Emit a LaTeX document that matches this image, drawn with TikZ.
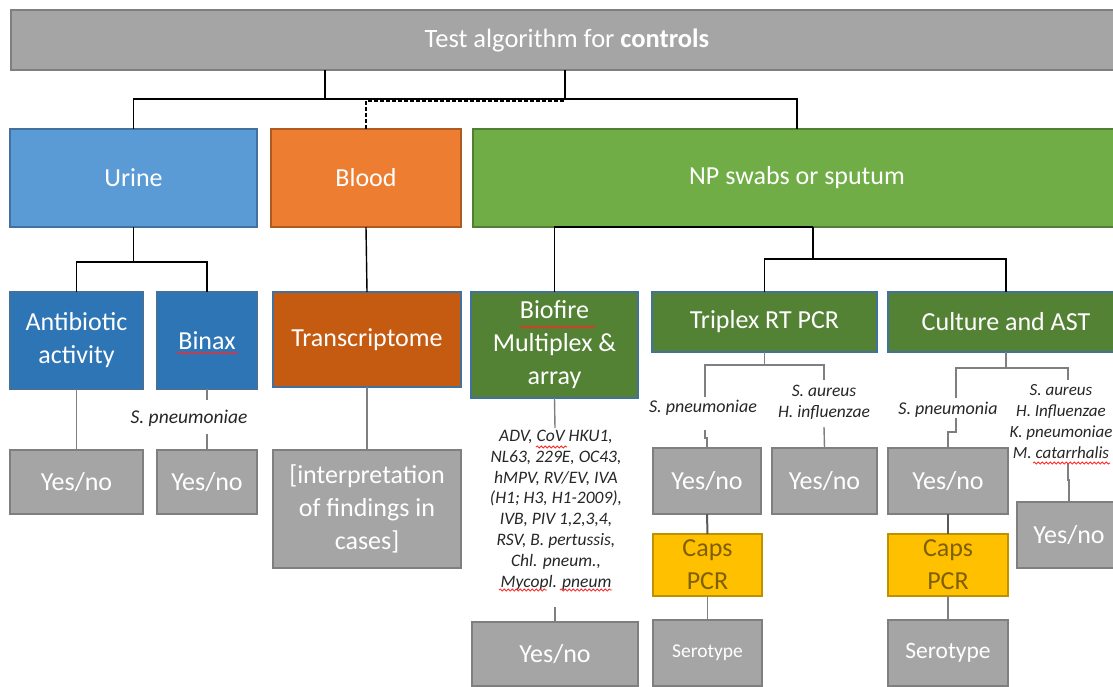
\documentclass[tikz,border=0pt]{standalone}
\usepackage{fontspec}
\setmainfont{Carlito}
\usetikzlibrary{decorations.pathmorphing}
\definecolor{gbox}{HTML}{A5A5A5}
\definecolor{gedge}{HTML}{7F7F7F}
\definecolor{urinec}{HTML}{5B9BD5}
\definecolor{bluee}{HTML}{41719C}
\definecolor{bloodc}{HTML}{ED7D31}
\definecolor{bloode}{HTML}{AE5A21}
\definecolor{npc}{HTML}{70AD47}
\definecolor{npe}{HTML}{507E32}
\definecolor{dblue}{HTML}{2E75B6}
\definecolor{dorange}{HTML}{C55A11}
\definecolor{dgreen}{HTML}{548235}
\definecolor{capsc}{HTML}{FFC000}
\definecolor{capse}{HTML}{BF9000}
\definecolor{capst}{HTML}{7F6000}
\definecolor{lblc}{HTML}{262626}
\begin{document}
\begin{tikzpicture}[x=1pt,y=-1pt,
  box/.style={draw, line width=1.1pt, rectangle, inner sep=0pt, outer sep=0pt,
    text=white, align=center, font=\fontsize{26}{33}\selectfont},
  graybox/.style={box, fill=gbox, draw=gedge},
  capsbox/.style={box, fill=capsc, draw=capse, text=capst},
  lbl/.style={inner sep=0pt, align=center, text=lblc, font=\itshape\fontsize{18}{21}\selectfont},
  mainline/.style={draw=black, line width=1.4pt},
  subline/.style={draw=gedge, line width=1.4pt},
  capsline/.style={draw=black!65, line width=2pt},
  spell/.style={draw=red!85, line width=0.8pt, decorate, decoration={snake, amplitude=1.1pt, segment length=4pt}}
]
\useasboundingbox (0,0) rectangle (1113,686);
\clip (0,0) rectangle (1113,686);

% ---------- nodes ----------
\node[graybox, minimum width=1112pt, minimum height=60pt] (title) at (567,40)
  {\fontsize{26.5}{32}\selectfont Test algorithm for \textbf{controls}};

\node[box, fill=urinec, draw=bluee, minimum width=247pt, minimum height=98pt] (urine) at (133.5,178) {Urine};
\node[box, fill=bloodc, draw=bloode, minimum width=190pt, minimum height=98pt] (blood) at (366,178) {Blood};
\node[box, fill=npc, draw=npe, minimum width=648pt, minimum height=98pt] (np) at (797,178) {NP swabs or sputum};

\node[box, fill=dblue, draw=bluee, minimum width=133pt, minimum height=97pt] (anti) at (76.5,340.5) {Antibiotic\\activity};
\node[box, fill=dblue, draw=bluee, minimum width=100pt, minimum height=97pt] (binax) at (207,340.5) {Binax};
\node[box, fill=dorange, draw=bluee, minimum width=188pt, minimum height=95pt] (trans) at (367,339.5) {Transcriptome};
\node[box, fill=dgreen, draw=bluee, minimum width=167pt, minimum height=106pt] (biofire) at (554.5,345) {Biofire\\Multiplex \&\\array};
\node[box, fill=dgreen, draw=bluee, minimum width=225pt, minimum height=60pt] (triplex) at (764.5,322) {Triplex RT PCR};
\node[box, fill=dgreen, draw=bluee, minimum width=236pt, minimum height=60pt] (culture) at (1006,322) {Culture and AST};

\node[graybox, minimum width=133pt, minimum height=64pt] (yn1) at (76.5,482) {Yes/no};
\node[graybox, minimum width=100pt, minimum height=64pt] (yn2) at (207,482) {Yes/no};
\node[graybox, minimum width=188pt, minimum height=118pt] (interp) at (367,509) {[interpretation\\of findings in\\cases]};
\node[graybox, minimum width=166pt, minimum height=64pt] (yn3) at (555,654) {Yes/no};
\node[graybox, minimum width=108pt, minimum height=66pt] (yn4) at (707,481) {Yes/no};
\node[graybox, minimum width=105pt, minimum height=66pt] (yn5) at (824.5,481) {Yes/no};
\node[capsbox, minimum width=109pt, minimum height=62pt] (caps1) at (707.5,565) {Caps\\PCR};
\node[graybox, minimum width=109pt, minimum height=66pt, font=\fontsize{19.5}{24}\selectfont] (sero1) at (707.5,653) {Serotype};
\node[graybox, minimum width=120pt, minimum height=66pt] (yn6) at (948,481) {Yes/no};
\node[capsbox, minimum width=120pt, minimum height=62pt] (caps2) at (948,565) {Caps\\PCR};
\node[graybox, minimum width=120pt, minimum height=66pt, font=\fontsize{23.5}{28}\selectfont] (sero2) at (948,653) {Serotype};
\node[graybox, minimum width=104pt, minimum height=66pt] (yn7) at (1069,535) {Yes/no};

% ---------- labels ----------
\node[lbl, font=\itshape\fontsize{19.5}{23}\selectfont] (lblb) at (189,418) {S. pneumoniae};
\node[lbl, font=\itshape\fontsize{17.5}{20.8}\selectfont] (bflist) at (556,510)
  {ADV, CoV HKU1,\\NL63, 229E, OC43,\\hMPV, RV/EV, IVA\\(H1; H3, H1-2009),\\IVB, PIV 1,2,3,4,\\RSV, B. pertussis,\\Chl. pneum.,\\Mycopl. pneum};
\node[lbl] (lt1) at (703,408) {S. pneumoniae};
\node[lbl, font=\itshape\fontsize{17.5}{21}\selectfont] (lt2) at (824,402.5) {S. aureus\\H. influenzae};
\node[lbl] (lc1) at (948,410) {S. pneumonia};
\node[lbl, font=\itshape\fontsize{17}{21}\selectfont] (lc2) at (1061,421.5) {S. aureus\\H. Influenzae\\K. pneumoniae\\M. catarrhalis};

% ---------- coordinates ----------
\coordinate (tA) at (325,70);  \coordinate (tB) at (565,70);
\coordinate (jA) at (325,99);  \coordinate (jB) at (565,99);
\coordinate (jD) at (565,101);
\coordinate (uj) at (133.5,262);
\coordinate (nj1) at (813,227); \coordinate (nj2) at (813,259);
\coordinate (b1) at (207,400);  \coordinate (b2) at (207,434);
\coordinate (f1) at (555,428);  \coordinate (f2) at (555,607);
\coordinate (tj) at (764.5,365);
\coordinate (tL1) at (705,397); \coordinate (tL2) at (705,430); \coordinate (tL3) at (707,438);
\coordinate (tR1) at (824,380); \coordinate (tR2) at (824,427);
\coordinate (cj) at (1006,368);
\coordinate (cL1) at (956,398); \coordinate (cL2) at (956,418); \coordinate (cL3) at (948,432);
\coordinate (cR1) at (1068,380); \coordinate (cR2) at (1068,463); \coordinate (cR3) at (1069,480);

% ---------- connectors ----------
\draw[mainline] (tA) -- (jA) -- (jB) -- (tB);
\draw[mainline] (urine.north) |- (jA);
\draw[mainline] (jB) -| (np.north);
\draw[mainline, dashed, dash pattern=on 4pt off 2pt] (blood.north) |- (jD);

\draw[mainline] (urine.south) -- (uj);
\draw[mainline] (anti.north) |- (uj) -| (binax.north);
\draw[mainline] (blood.south) -- (trans.north);
\draw[mainline] (nj1) -| (biofire.north);
\draw[mainline] (nj1) -- (nj2);
\draw[mainline] (triplex.north) |- (nj2) -| (culture.north);

\draw[subline] (anti.south) -- (yn1.north);
\draw[subline] (binax.south) -- (b1);
\draw[subline] (b2) -- (yn2.north);
\draw[subline] (trans.south) -- (interp.north);
\draw[subline] (biofire.south) -- (f1);
\draw[subline] (f2) -- (yn3.north);

\draw[subline] (triplex.south) -- (tj);
\draw[subline] (tL1) |- (tj) -| (tR1);
\draw[subline] (tL2) |- (tL3) -| (yn4.north);
\draw[subline] (tR2) -- (yn5.north);
\draw[capsline] (yn4.south) -- (caps1.north);
\draw[subline] (caps1.south) -- (sero1.north);

\draw[subline] (culture.south) -- (cj);
\draw[subline] (cL1) |- (cj) -| (cR1);
\draw[subline] (cL2) |- (cL3) -- (yn6.north);
\draw[subline] (cR2) |- (cR3) -- (yn7.north);
\draw[capsline] (yn6.south) -- (caps2.north);
\draw[subline] (caps2.south) -- (sero2.north);

% ---------- spell-check underlines ----------
\draw[spell] (177,353) -- (238,353);
\draw[spell] (520,327) -- (595,327);
\draw[spell] (536,447) -- (567,447);
\draw[spell] (499,590) -- (547,590);
\draw[spell] (560,590) -- (612,590);
\draw[spell] (1033,463) -- (1110,463);
\end{tikzpicture}
\end{document}
